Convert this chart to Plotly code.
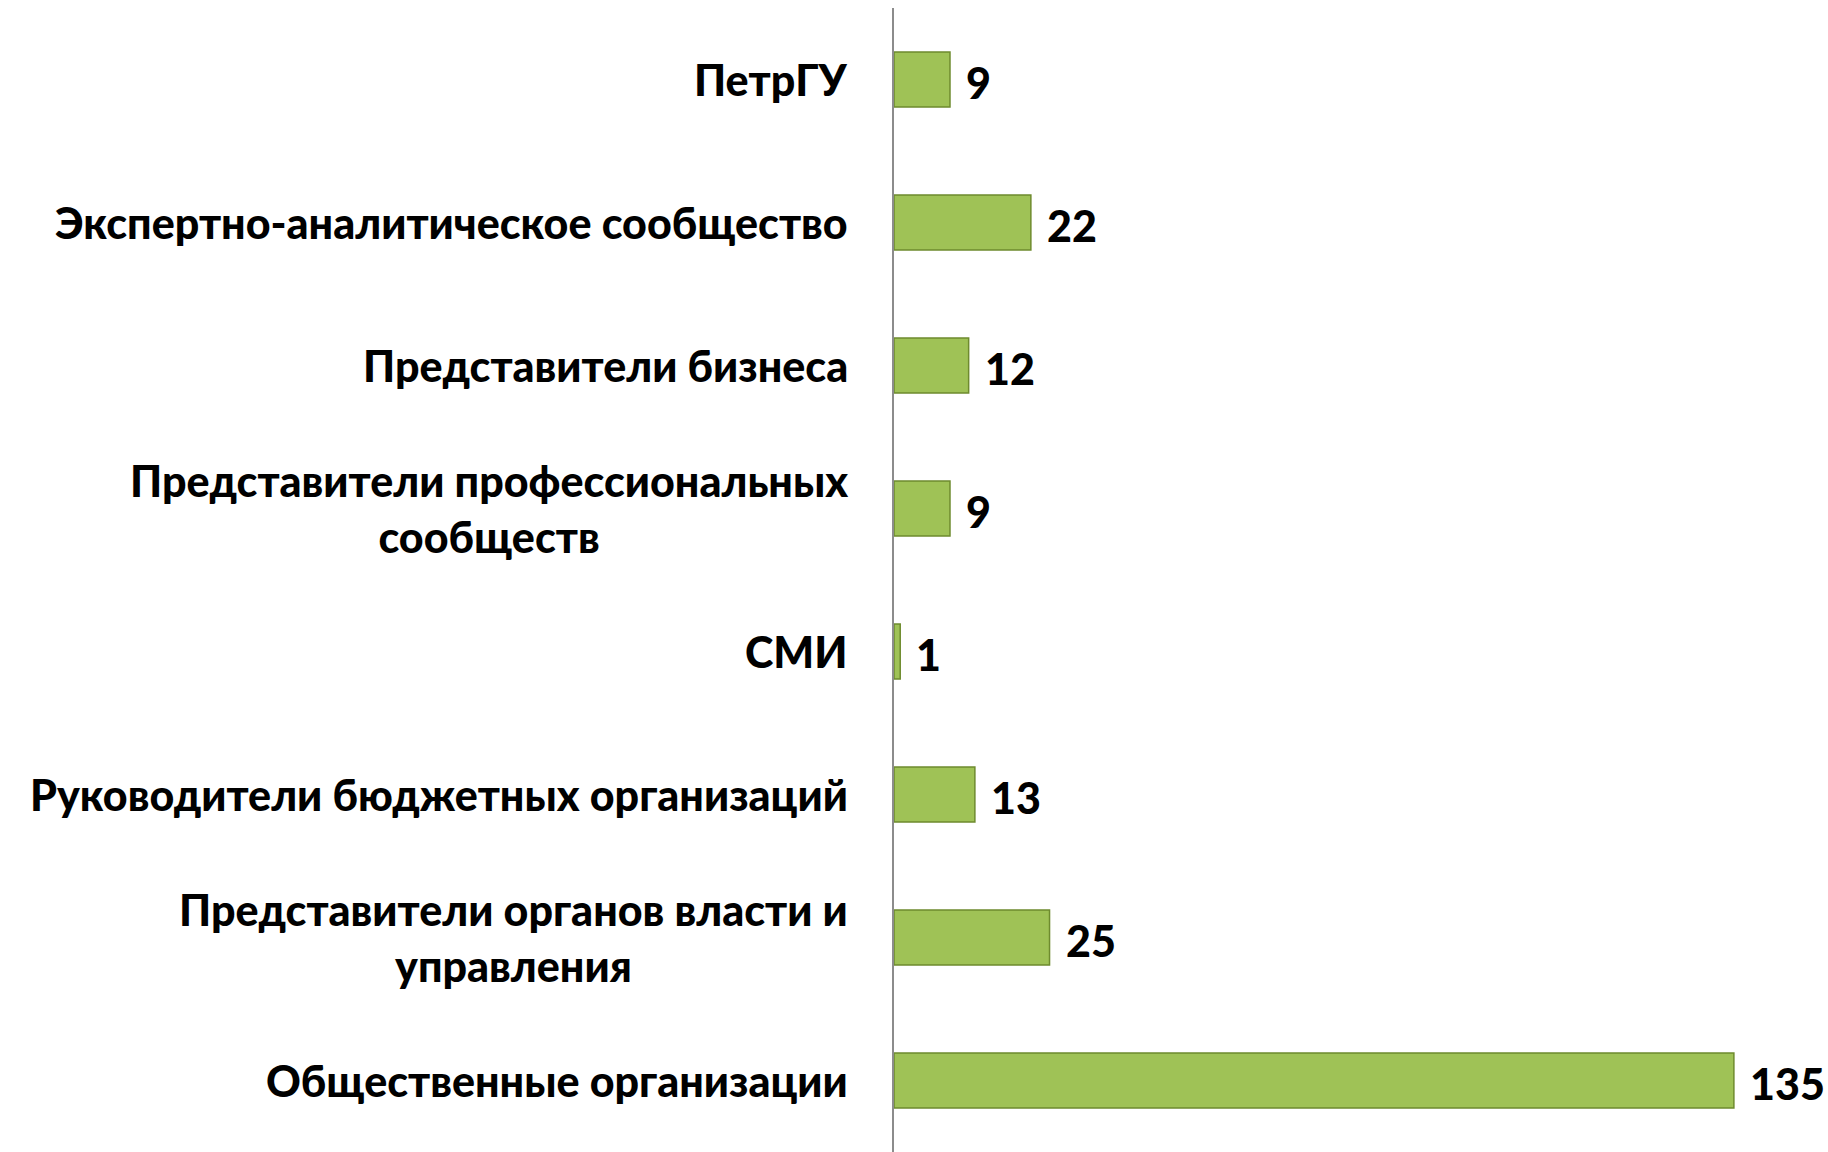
import plotly.graph_objects as go

categories = [
    "ПетрГУ",
    "Экспертно-аналитическое сообщество",
    "Представители бизнеса",
    "Представители профессиональных<br>сообществ",
    "СМИ",
    "Руководители бюджетных организаций",
    "Представители органов власти и<br>управления",
    "Общественные организации",
]
values = [9, 22, 12, 9, 1, 13, 25, 135]

FONT = "Lato"
SIZE = 43
WEIGHT = 900

fig = go.Figure()
fig.add_trace(go.Bar(
    y=list(range(len(categories))),
    x=values,
    orientation="h",
    marker=dict(color="#9FC256", line=dict(color="#6E8B2E", width=1.5)),
    width=0.385,
    hoverinfo="skip",
))

annotations = []
for i, (c, v) in enumerate(zip(categories, values)):
    annotations.append(dict(
        x=0, y=i, xref="paper", yref="y", text=c, showarrow=False,
        xanchor="right", yanchor="middle", align="center", xshift=-44,
        font=dict(family=FONT, size=SIZE, color="black", weight=WEIGHT),
    ))
    annotations.append(dict(
        x=v, y=i, xref="x", yref="y", text=str(v), showarrow=False,
        xanchor="left", yanchor="middle", xshift=14, yshift=-3,
        font=dict(family=FONT, size=SIZE, color="black", weight=WEIGHT),
    ))

fig.update_layout(
    width=1828, height=1152,
    margin=dict(l=894, r=63, t=8, b=0),
    paper_bgcolor="white", plot_bgcolor="white",
    showlegend=False,
    annotations=annotations,
    xaxis=dict(range=[0, 140], showgrid=False, zeroline=False,
               showticklabels=False, showline=False, fixedrange=True),
    yaxis=dict(range=[len(categories) - 0.5, -0.5], showgrid=False,
               zeroline=False, showticklabels=False,
               showline=True, linecolor="#8C8C8C", linewidth=2, fixedrange=True),
)

fig.write_html("out.html", config={"displayModeBar": False},
               post_script="document.body.style.margin='0';")
